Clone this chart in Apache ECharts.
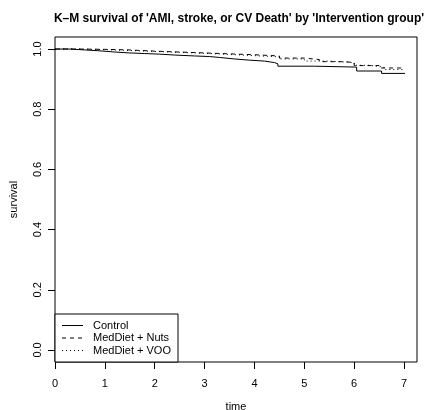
<!DOCTYPE html>
<html>
<head>
<meta charset="utf-8">
<script src="https://cdn.jsdelivr.net/npm/echarts@6/dist/echarts.min.js"></script>
<style>
html,body{margin:0;padding:0;background:#fff;}
#c{width:425px;height:410px;}
</style>
</head>
<body>
<div id="c"></div>
<script>
var titleText = "K\u2013M survival of 'AMI, stroke, or CV Death' by 'Intervention group'";
var seriesNames = ['Control', 'MedDiet + Nuts', 'MedDiet + VOO'];
var xTicks = [0, 1, 2, 3, 4, 5, 6, 7];
var yTicks = [0, 0.2, 0.4, 0.6, 0.8, 1.0];

var controlTime = [0, 0.3, 0.6, 0.9, 1.2, 1.5, 1.8, 2.1, 2.4, 2.8, 3.1, 3.3, 3.6, 3.9, 4.2, 4.4, 4.47, 5.2, 6.05, 6.55, 7.02];
var controlSurv = [1.000, 0.997, 0.994, 0.990, 0.987, 0.985, 0.983, 0.980, 0.977, 0.975, 0.972, 0.967, 0.963, 0.960, 0.955, 0.951, 0.943, 0.940, 0.927, 0.919, 0.919];

var nutsTime = [0, 0.5, 1.0, 1.5, 2.0, 2.5, 3.0, 3.5, 4.0, 4.5, 5.0, 5.3, 5.8, 6.0, 6.5, 7.02];
var nutsSurv = [1.000, 0.999, 0.997, 0.993, 0.990, 0.987, 0.984, 0.981, 0.977, 0.970, 0.965, 0.958, 0.955, 0.945, 0.937, 0.936];

var vooTime = [0, 0.5, 1.0, 1.5, 2.0, 2.5, 3.0, 3.5, 4.0, 4.5, 5.0, 5.5, 6.0, 6.3, 6.6, 7.0];
var vooSurv = [1.000, 0.998, 0.995, 0.992, 0.989, 0.986, 0.982, 0.978, 0.974, 0.967, 0.960, 0.955, 0.946, 0.940, 0.932, 0.931];

function pairs(t, s) { return t.map(function (v, i) { return [v, s[i]]; }); }

var FONT = 'Liberation Sans, Arial, Helvetica, sans-serif';
var chart = echarts.init(document.getElementById('c'), null, {renderer: 'canvas'});

var styles = [
  {type: 'solid'},
  {type: [4, 4]},
  {type: [1, 3]}
];
var dataSets = [pairs(controlTime, controlSurv), pairs(nutsTime, nutsSurv), pairs(vooTime, vooSurv)];

var legendX = 55, legendTop = 314, legendBottom = 362, legendRight = 178;
var rowY = [325.5, 338, 350.5];
var graphics = [
  {type: 'rect', shape: {x: legendX, y: legendTop, width: legendRight - legendX, height: legendBottom - legendTop},
   style: {fill: '#fff', stroke: '#000', lineWidth: 1}, z: 100}
];
seriesNames.forEach(function (n, i) {
  graphics.push({type: 'line', shape: {x1: 62, y1: rowY[i], x2: 83, y2: rowY[i]},
    style: {stroke: '#000', lineWidth: 1, lineDash: i === 0 ? null : styles[i].type}, z: 101});
  graphics.push({type: 'text', x: 93, y: rowY[i], style: {text: n, fill: '#000', font: '11px ' + FONT, textVerticalAlign: 'middle'}, z: 101});
});

chart.setOption({
  animation: false,
  backgroundColor: '#fff',
  title: {
    text: titleText, left: 234, top: 8, textAlign: 'center',
    textStyle: {fontFamily: FONT, fontSize: 12, fontWeight: 'bold', color: '#000'}
  },
  grid: {left: 55, right: 8, top: 37, bottom: 48, containLabel: false, outerBoundsMode: 'none',
    show: true, borderColor: '#000', borderWidth: 1, backgroundColor: 'transparent'},
  xAxis: {
    type: 'value', min: 0, max: 7.26,
    name: 'time', nameLocation: 'middle', nameGap: 39,
    nameTextStyle: {fontFamily: FONT, fontSize: 11, color: '#000'},
    axisLine: {show: false, onZero: false},
    axisTick: {show: true, length: 7, lineStyle: {color: '#000'}, customValues: xTicks},
    axisLabel: {fontFamily: FONT, fontSize: 11, color: '#000', margin: 16, customValues: xTicks, showMaxLabel: true, showMinLabel: true},
    splitLine: {show: false}
  },
  yAxis: {
    type: 'value', min: -0.04, max: 1.04,
    name: 'survival', nameLocation: 'middle', nameGap: 36,
    nameTextStyle: {fontFamily: FONT, fontSize: 11, color: '#000'},
    axisLine: {show: false, onZero: false},
    axisTick: {show: true, length: 7, lineStyle: {color: '#000'}, customValues: yTicks},
    axisLabel: {fontFamily: FONT, fontSize: 11, color: '#000', margin: 12, rotate: 90, customValues: yTicks,
      formatter: function (v) { return v.toFixed(1); }},
    splitLine: {show: false}
  },
  series: seriesNames.map(function (n, i) {
    return {
      name: n, type: 'line', step: 'end', data: dataSets[i], showSymbol: false, symbol: 'none',
      lineStyle: {color: '#000', width: 1, type: styles[i].type}, silent: true
    };
  }),
  graphic: graphics
});
</script>
</body>
</html>
